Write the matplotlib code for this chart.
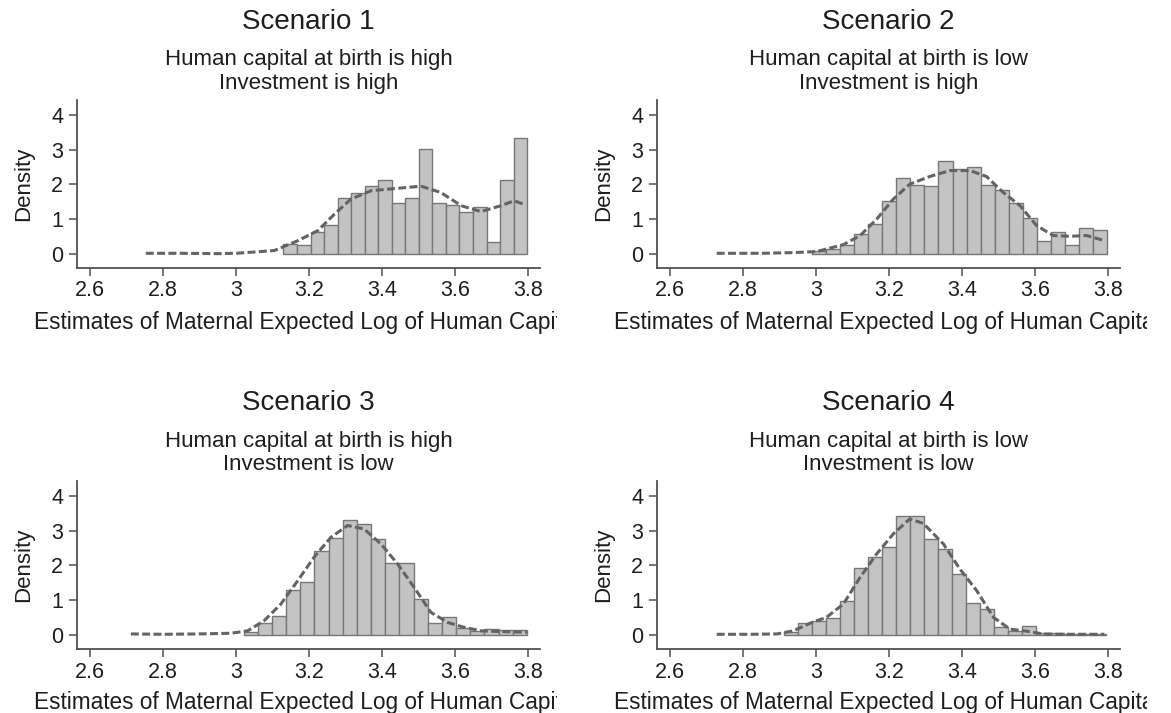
import matplotlib
matplotlib.use("Agg")
import matplotlib.pyplot as plt
from matplotlib.transforms import Bbox

plt.rcParams['font.family'] = ['Liberation Sans', 'DejaVu Sans']

# ---- data -------------------------------------------------------------
titles = ["Scenario 1", "Scenario 2", "Scenario 3", "Scenario 4"]
subtitle_birth = [
    "Human capital at birth is high",
    "Human capital at birth is low",
    "Human capital at birth is high",
    "Human capital at birth is low",
]
subtitle_invest = [
    "Investment is high",
    "Investment is high",
    "Investment is low",
    "Investment is low",
]
x_label = "Estimates of Maternal Expected Log of Human Capital"
x_ticks = [2.6, 2.8, 3.0, 3.2, 3.4, 3.6, 3.8]
x_tick_labels = ["2.6", "2.8", "3", "3.2", "3.4", "3.6", "3.8"]
y_ticks = [0, 1, 2, 3, 4]

# histogram: first bin edge, bin width, bar densities
s1_bin_start, s1_bin_width = 3.130, 0.0371
s1_density = [0.28, 0.25, 0.62, 0.82, 1.60, 1.76, 1.95, 2.13, 1.46, 1.60,
              3.02, 1.46, 1.41, 1.22, 1.34, 0.34, 2.13, 3.33]
s2_bin_start, s2_bin_width = 2.990, 0.0384
s2_density = [0.08, 0.15, 0.27, 0.58, 0.86, 1.53, 2.19, 1.99, 1.95, 2.67,
              2.45, 2.49, 1.99, 1.85, 1.47, 1.03, 0.38, 0.64, 0.27, 0.75, 0.70]
s3_bin_start, s3_bin_width = 3.021, 0.0388
s3_density = [0.08, 0.34, 0.56, 1.28, 1.52, 2.41, 2.79, 3.31, 3.19, 2.76,
              2.06, 2.06, 1.04, 0.34, 0.51, 0.19, 0.11, 0.17, 0.14, 0.14]
s4_bin_start, s4_bin_width = 2.912, 0.0384
s4_density = [0.10, 0.35, 0.40, 0.48, 0.97, 1.93, 2.24, 2.52, 3.43, 3.43,
              2.76, 2.47, 1.76, 0.91, 0.75, 0.24, 0.12, 0.25, 0.06, 0.05,
              0.03, 0.02, 0.04]

# kernel density estimates
s1_kde_x = [2.753, 2.85, 2.95, 3.0, 3.041, 3.105, 3.169, 3.224, 3.27, 3.315,
            3.37, 3.443, 3.507, 3.561, 3.617, 3.671, 3.726, 3.762, 3.794]
s1_kde_y = [0.02, 0.02, 0.01, 0.02, 0.05, 0.10, 0.38, 0.67, 1.15, 1.58,
            1.82, 1.89, 1.95, 1.77, 1.39, 1.22, 1.39, 1.53, 1.41]
s2_kde_x = [2.728, 2.85, 2.938, 3.002, 3.075, 3.121, 3.166, 3.212, 3.257,
            3.312, 3.367, 3.422, 3.467, 3.513, 3.559, 3.604, 3.65, 3.696,
            3.742, 3.792]
s2_kde_y = [0.02, 0.02, 0.04, 0.07, 0.27, 0.53, 1.00, 1.58, 2.01, 2.23,
            2.40, 2.40, 2.23, 1.77, 1.39, 0.82, 0.53, 0.51, 0.53, 0.38]
s3_kde_x = [2.712, 2.80, 2.895, 2.986, 3.032, 3.077, 3.123, 3.169, 3.214,
            3.260, 3.306, 3.351, 3.397, 3.443, 3.488, 3.534, 3.580, 3.625,
            3.671, 3.717, 3.797]
s3_kde_y = [0.03, 0.02, 0.03, 0.05, 0.12, 0.41, 0.89, 1.56, 2.24, 2.81,
            3.15, 3.05, 2.62, 2.04, 1.37, 0.65, 0.36, 0.22, 0.12, 0.10, 0.08]
s4_kde_x = [2.728, 2.82, 2.893, 2.938, 2.984, 3.029, 3.075, 3.121, 3.166,
            3.212, 3.257, 3.294, 3.349, 3.394, 3.440, 3.486, 3.531, 3.577,
            3.623, 3.668, 3.714, 3.790]
s4_kde_y = [0.02, 0.02, 0.03, 0.12, 0.34, 0.51, 0.89, 1.66, 2.33, 2.91,
            3.34, 3.21, 2.62, 1.90, 1.28, 0.51, 0.17, 0.11, 0.03, 0.02,
            0.02, 0.02]

panels = [
    (s1_bin_start, s1_bin_width, s1_density, s1_kde_x, s1_kde_y),
    (s2_bin_start, s2_bin_width, s2_density, s2_kde_x, s2_kde_y),
    (s3_bin_start, s3_bin_width, s3_density, s3_kde_x, s3_kde_y),
    (s4_bin_start, s4_bin_width, s4_density, s4_kde_x, s4_kde_y),
]

# ---- figure -----------------------------------------------------------
W, H = 1171, 713
fig = plt.figure(figsize=(W / 100, H / 100), dpi=100)
fig.patch.set_facecolor("white")

axis_col = "#505050"
text_col = "#1e1e1e"
bar_fill = "#c3c3c3"
bar_edge = "#777777"
kde_col = "#636363"

# pixel geometry of each plot region: left, top, right edge of its label
origins = [(77, 100, 557), (657, 100, 1147), (77, 481, 557), (657, 481, 1147)]
ax_w, ax_h = 463, 168

for i, ((left, top, clip_right), (b0, bw, dens, kx, ky)) in enumerate(
        zip(origins, panels)):
    ax = fig.add_axes([left / W, 1 - (top + ax_h) / H, ax_w / W, ax_h / H])
    edges = [b0 + k * bw for k in range(len(dens))]
    ax.bar(edges, dens, width=bw, align="edge", color=bar_fill,
           edgecolor=bar_edge, linewidth=1.0, zorder=2)
    ax.plot(kx, ky, color=kde_col, lw=2.2, linestyle=(0, (2.6, 1.1)),
            dash_capstyle="butt", zorder=3)

    ax.set_xlim(2.5644, 3.8329)
    ax.set_ylim(-0.403, 4.43)
    ax.set_xticks(x_ticks)
    ax.set_xticklabels(x_tick_labels)
    ax.set_yticks(y_ticks)
    for side in ("top", "right"):
        ax.spines[side].set_visible(False)
    for side in ("left", "bottom"):
        ax.spines[side].set_color(axis_col)
        ax.spines[side].set_linewidth(1.3)
    ax.tick_params(axis="both", direction="out", length=6, width=1.1,
                   color=axis_col, labelsize=15.5, labelcolor=text_col)
    ax.tick_params(axis="x", pad=3)
    ax.tick_params(axis="y", pad=4)
    ax.set_ylabel("Density", fontsize=16, color=text_col)
    ax.yaxis.set_label_coords(-0.093, 0.5)

    cx = (left + ax_w / 2) / W
    fig.text(cx, 1 - (top - 78) / H, titles[i], ha="center", va="center",
             fontsize=20, color=text_col)
    fig.text(cx, 1 - (top - 40) / H, subtitle_birth[i], ha="center",
             va="center", fontsize=16, color=text_col)
    fig.text(cx, 1 - (top - 17) / H, subtitle_invest[i], ha="center",
             va="center", fontsize=16, color=text_col)

    # axis title runs past the panel's right edge and is cut off there
    xl = fig.text((left - 43) / W, 1 - (top + 222) / H, x_label,
                  ha="left", va="center", fontsize=16.3, color=text_col)
    xl.set_clip_box(Bbox.from_extents(0, 0, clip_right, H))
    xl.set_clip_on(True)

fig.savefig("out.png", dpi=100, facecolor="white")
